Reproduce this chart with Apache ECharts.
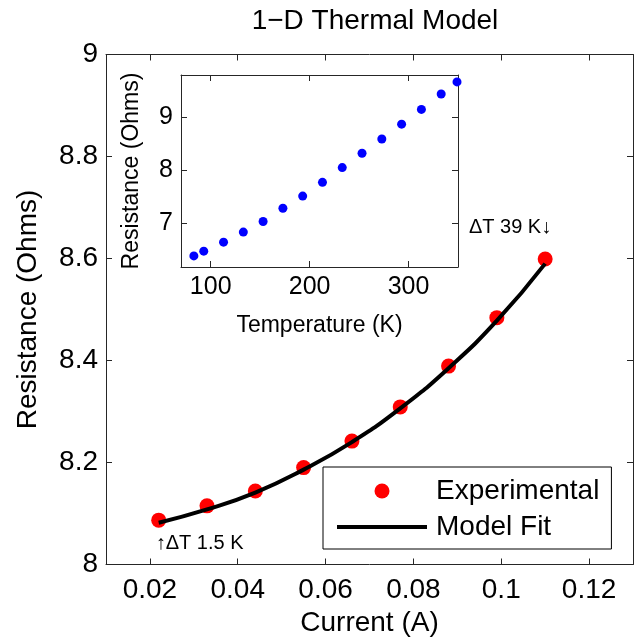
<!DOCTYPE html>
<html>
<head>
<meta charset="utf-8">
<script src="https://cdn.jsdelivr.net/npm/echarts@6/dist/echarts.min.js"></script>
<style>
    html, body { margin: 0; padding: 0; background: #fff; }
    #chart { width: 634px; height: 640px; }
</style>
</head>
<body>
<div id="chart"></div>
<script>
    // main plot: resistance vs current
    var currentA = [0.022, 0.033, 0.044, 0.055, 0.066, 0.077, 0.088, 0.099, 0.110];
    var resistMeas = [8.087, 8.115, 8.144, 8.190, 8.242, 8.309, 8.389, 8.484, 8.599];
    var resistFit = [8.082, 8.108, 8.141, 8.186, 8.240, 8.306, 8.385, 8.478, 8.590];
    var currentTicks = [0.02, 0.04, 0.06, 0.08, 0.1, 0.12];

    // inset: resistance vs temperature
    var tempK = [83, 93, 113, 133, 153, 173, 193, 213, 233, 253, 273, 293, 313, 333, 349];
    var resistT = [6.38, 6.47, 6.64, 6.83, 7.03, 7.28, 7.51, 7.77, 8.05, 8.32, 8.59, 8.87, 9.15, 9.44, 9.67];
    var tempTicks = [100, 200, 300];
    var insetTicks = [7, 8, 9];

    var FONT = '"Liberation Sans", Arial, sans-serif';
    var AXC = '#262626';

    function pairs(xs, ys) {
        var out = [];
        for (var i = 0; i < xs.length; i++) out.push([xs[i], ys[i]]);
        return out;
    }

    function boxAxis(grid, pos, min, max, ticks, labelSize, showLabel, extra) {
        var ax = {
            type: 'value',
            gridIndex: grid,
            position: pos,
            min: min,
            max: max,
            axisLine: { show: true, onZero: false, lineStyle: { color: AXC, width: 1 } },
            axisTick: { show: true, inside: true, length: 6, lineStyle: { color: AXC } },
            splitLine: { show: false },
            axisLabel: {
                show: showLabel,
                color: '#000',
                fontFamily: FONT,
                fontSize: labelSize
            }
        };
        if (ticks) {
            ax.axisTick.customValues = ticks;
            ax.axisLabel.customValues = ticks;
        }
        for (var k in extra) ax[k] = extra[k];
        return ax;
    }

    var chart = echarts.init(document.getElementById('chart'), null, { renderer: 'canvas' });

    var mainX = boxAxis(0, 'bottom', 0.01, 0.13, currentTicks, 28, true, {
        name: 'Current (A)', nameLocation: 'middle', nameGap: 43,
        nameTextStyle: { fontFamily: FONT, fontSize: 28, color: '#000' }
    });
    mainX.axisLabel.margin = 12;

    var option = {
        backgroundColor: '#fff',
        animation: false,
        title: {
            text: '1\u2212D Thermal Model',
            left: 370,
            textAlign: 'center',
            top: 2,
            textStyle: { fontFamily: FONT, fontSize: 28, fontWeight: 'normal', color: '#000' }
        },
        legend: {
            orient: 'vertical',
            left: 323,
            top: 467,
            padding: [9, 12, 7, 14],
            itemGap: 6,
            itemWidth: 90,
            itemHeight: 15,
            borderColor: '#000',
            borderWidth: 1,
            backgroundColor: '#fff',
            symbolKeepAspect: true,
            textStyle: { fontFamily: FONT, fontSize: 28, color: '#000', lineHeight: 30, padding: [0, 0, 0, 4] },
            data: [
                { name: 'Experimental', icon: 'circle' },
                { name: 'Model Fit', icon: 'path://M0,0L90,0L90,4L0,4Z', itemStyle: { color: '#000' } }
            ]
        },
        grid: [
            { left: 106, right: 1, top: 54.5, bottom: 75.5, outerBoundsMode: 'none', containLabel: false },
            { left: 181, width: 277, top: 75, height: 192, outerBoundsMode: 'none', show: true, backgroundColor: '#fff', borderWidth: 0, z: 5 }
        ],
        xAxis: [
            mainX,
            boxAxis(0, 'top', 0.01, 0.13, currentTicks, 28, false, {}),
            boxAxis(1, 'bottom', 70, 350, tempTicks, 25, true, {
                name: 'Temperature (K)', nameLocation: 'middle', nameGap: 47, z: 6,
                nameTextStyle: { fontFamily: FONT, fontSize: 23, color: '#000' }
            }),
            boxAxis(1, 'top', 70, 350, tempTicks, 25, false, { z: 6 })
        ],
        yAxis: [
            boxAxis(0, 'left', 8, 9, null, 28, true, {
                interval: 0.2,
                name: 'Resistance (Ohms)', nameLocation: 'middle', nameGap: 64,
                nameTextStyle: { fontFamily: FONT, fontSize: 28, color: '#000' }
            }),
            boxAxis(0, 'right', 8, 9, null, 28, false, { interval: 0.2 }),
            boxAxis(1, 'left', 6.17, 9.8, insetTicks, 25, true, {
                name: 'Resistance (Ohms)', nameLocation: 'middle', nameGap: 38, z: 6,
                nameTextStyle: { fontFamily: FONT, fontSize: 23, color: '#000' }
            }),
            boxAxis(1, 'right', 6.17, 9.8, insetTicks, 25, false, { z: 6 })
        ],
        series: [
            {
                name: 'Experimental',
                type: 'scatter',
                xAxisIndex: 0,
                yAxisIndex: 0,
                symbol: 'circle',
                symbolSize: 15,
                itemStyle: { color: '#ff0000', opacity: 1 },
                data: pairs(currentA, resistMeas),
                markPoint: {
                    symbol: 'circle',
                    symbolSize: 0,
                    silent: true,
                    data: [
                        {
                            coord: [currentA[0], resistMeas[0]],
                            label: {
                                show: true, formatter: '\u2191\u0394T 1.5 K', position: 'inside',
                                align: 'left', verticalAlign: 'middle', offset: [-3, 23],
                                fontFamily: FONT, fontSize: 20, color: '#000'
                            }
                        },
                        {
                            coord: [currentA[8], resistMeas[8]],
                            label: {
                                show: true, formatter: '\u0394T 39 K\u2193', position: 'inside',
                                align: 'right', verticalAlign: 'middle', offset: [6, -32],
                                fontFamily: FONT, fontSize: 20, color: '#000'
                            }
                        }
                    ]
                }
            },
            {
                name: 'Model Fit',
                type: 'line',
                xAxisIndex: 0,
                yAxisIndex: 0,
                symbol: 'none',
                smooth: true,
                lineStyle: { color: '#000', width: 4 },
                itemStyle: { color: '#000' },
                data: pairs(currentA, resistFit),
                z: 3
            },
            {
                name: 'Inset',
                type: 'scatter',
                xAxisIndex: 2,
                yAxisIndex: 2,
                symbol: 'circle',
                symbolSize: 9,
                itemStyle: { color: '#0000ff', opacity: 1 },
                data: pairs(tempK, resistT),
                z: 7
            }
        ]
    };

    chart.setOption(option);
</script>
</body>
</html>
